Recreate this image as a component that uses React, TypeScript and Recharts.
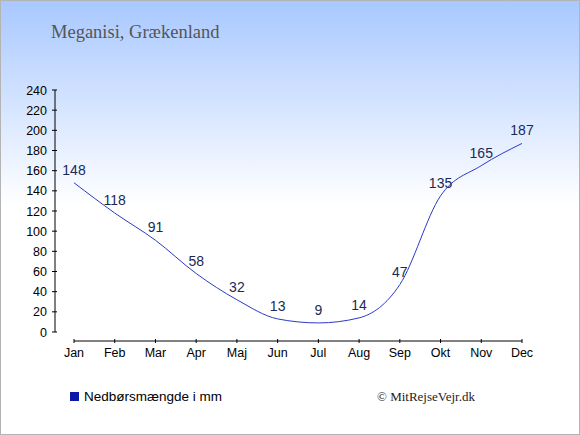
import React from 'react';
import { LineChart, Line, XAxis, YAxis, ReferenceLine, LabelList, Legend } from 'recharts';

const months = ['Jan', 'Feb', 'Mar', 'Apr', 'Maj', 'Jun', 'Jul', 'Aug', 'Sep', 'Okt', 'Nov', 'Dec'];
const precipitation = [148, 118, 91, 58, 32, 13, 9, 14, 47, 135, 165, 187];
const yTicks = [0, 20, 40, 60, 80, 100, 120, 140, 160, 180, 200, 220, 240];
const xTicks = [0, 1, 2, 3, 4, 5, 6, 7, 8, 9, 10, 11];

const title = 'Meganisi, Grækenland';
const seriesName = 'Nedbørsmængde i mm';
const copyright = '© MitRejseVejr.dk';

const data = months.map((m, i) => ({ i, month: m, value: precipitation[i] }));

// axis geometry (chart-level settings)
const X_PAD_LEFT = 19;
const Y_PAD_BOTTOM = 9;
const PLOT_W = 467;
const PLOT_H = 251;
const xAxisStart = -X_PAD_LEFT / ((PLOT_W - X_PAD_LEFT) / 11);
const yAxisStart = -Y_PAD_BOTTOM / ((PLOT_H - Y_PAD_BOTTOM) / 240);

const sans = '"Liberation Sans", Arial, sans-serif';
const serif = '"Liberation Serif", "Times New Roman", serif';

const YTick = (props: any) => {
  const { x, y, payload } = props;
  return (
    <g>
      <line x1={x - 3} x2={x + 2} y1={y} y2={y} stroke="#000" strokeWidth={1} />
      <text x={x - 8} y={y} dy="0.36em" textAnchor="end" fontSize={12.5} fontFamily={sans} fill="#000">
        {payload.value}
      </text>
    </g>
  );
};

const XTick = (props: any) => {
  const { x, y, payload } = props;
  return (
    <g>
      <line x1={x} x2={x} y1={y - 2} y2={y + 2} stroke="#000" strokeWidth={1} />
      <text x={x} y={y + 16} textAnchor="middle" fontSize={12.5} fontFamily={sans} fill="#000">
        {months[payload.value]}
      </text>
    </g>
  );
};

const LegendContent = () => (
  <div style={{ display: 'flex', alignItems: 'center', fontFamily: sans, fontSize: 13.5, color: '#000', whiteSpace: 'nowrap' }}>
    <span style={{ display: 'inline-block', width: 9, height: 9, background: '#0a19a8', marginRight: 5 }} />
    <span>{seriesName}</span>
  </div>
);

export default function App() {
  return (
    <div
      style={{
        position: 'fixed',
        left: 0,
        top: 0,
        width: 580,
        height: 435,
        background: 'linear-gradient(to bottom, #a8c8ff 0px, #ffffff 205px, #ffffff 435px)',
        overflow: 'hidden',
      }}
    >
      <div
        style={{
          position: 'absolute',
          left: 51,
          top: 22,
          fontFamily: serif,
          fontSize: 18.5,
          color: '#555',
          lineHeight: '20px',
          whiteSpace: 'nowrap',
        }}
      >
        {title}
      </div>
      <div style={{ position: 'absolute', left: 0, top: 0 }}>
        <LineChart width={580} height={435} data={data} margin={{ top: 90, right: 58, bottom: 64, left: 0 }}>
          <XAxis
            dataKey="i"
            type="number"
            domain={[0, 11]}
            ticks={xTicks}
            padding={{ left: X_PAD_LEFT, right: 0 }}
            axisLine={false}
            tickLine={false}
            tickSize={0}
            tickMargin={0}
            height={30}
            interval={0}
            tick={<XTick />}
          />
          <YAxis
            type="number"
            domain={[0, 240]}
            ticks={yTicks}
            padding={{ top: 0, bottom: Y_PAD_BOTTOM }}
            axisLine={false}
            tickLine={false}
            tickSize={0}
            tickMargin={0}
            width={55}
            interval={0}
            tick={<YTick />}
          />
          <ReferenceLine
            segment={[{ x: xAxisStart, y: 0 }, { x: xAxisStart, y: 240 }]}
            stroke="#000"
            strokeWidth={1}
            ifOverflow="visible"
          />
          <ReferenceLine
            segment={[{ x: 0, y: yAxisStart }, { x: 11, y: yAxisStart }]}
            stroke="#000"
            strokeWidth={1}
            ifOverflow="visible"
          />
          <Line
            type="monotone"
            dataKey="value"
            name={seriesName}
            stroke="#2a3ac4"
            strokeWidth={1}
            dot={false}
            activeDot={false}
            isAnimationActive={false}
          >
            <LabelList dataKey="value" position="top" offset={8} fontSize={14} fontFamily={sans} fill="#1a2a55" />
          </Line>
          <Legend
            layout="horizontal"
            verticalAlign="middle"
            align="center"
            content={<LegendContent />}
            wrapperStyle={{ left: 70, top: 389, width: 200, height: 18 }}
          />
        </LineChart>
      </div>
      <div
        style={{
          position: 'absolute',
          left: 377,
          top: 389,
          fontFamily: serif,
          fontSize: 13,
          color: '#222',
          whiteSpace: 'nowrap',
          lineHeight: '16px',
        }}
      >
        {copyright}
      </div>
      <div
        style={{
          position: 'absolute',
          left: 0,
          top: 0,
          width: 580,
          height: 435,
          boxSizing: 'border-box',
          border: '1px solid #b4b4b4',
          pointerEvents: 'none',
        }}
      />
    </div>
  );
}
